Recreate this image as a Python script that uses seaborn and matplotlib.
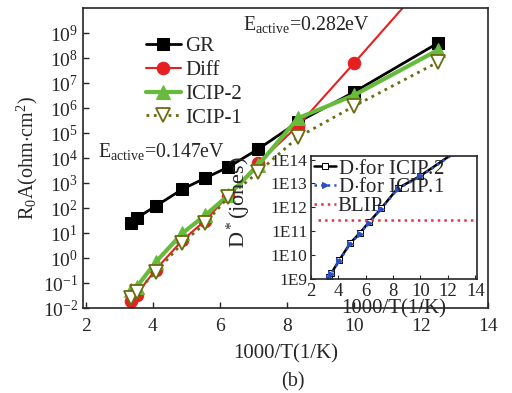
import numpy as np
import pandas as pd
import matplotlib
matplotlib.use("Agg")
import matplotlib.pyplot as plt
import matplotlib.ticker as mticker
import seaborn as sns

# ---------------- data ----------------
inv_T = [3.33, 3.51, 4.08, 4.88, 5.56, 6.25, 7.14, 8.33, 10.0, 12.5]
gr = [25, 40, 120, 575, 1600, 4400, 23000, 2.8e5, 4.4e6, 4.0e8]
diff = [0.019, 0.035, 0.35, 5.2, 32, 320, 6300, 2.0e5, 6.3e7, 4.0e11]
icip2 = [0.052, 0.069, 0.69, 10, 52, 330, 5200, 4.0e5, 3.3e6, 2.1e8]
icip1 = [0.025, 0.044, 0.28, 4.0, 25, 275, 2750, 6.9e4, 1.2e6, 6.9e7]

d_icip2 = [1.2e9, 1.8e9, 6.2e9, 3.2e10, 8.3e10, 2.4e11, 9.1e11, 6.2e12, 2.1e13, 2.0e14]
d_icip1 = [1.1e9, 1.7e9, 5.9e9, 3.0e10, 7.9e10, 2.3e11, 8.7e11, 5.9e12, 2.0e13, 1.9e14]
blip_x = [2.5, 13.8]
blip_val = [2.9e11, 2.9e11]

y_ticks = [1e-2, 1e-1, 1e0, 1e1, 1e2, 1e3, 1e4, 1e5, 1e6, 1e7, 1e8, 1e9]
x_ticks = [2, 4, 6, 8, 10, 12, 14]
inset_y_ticks = [1e9, 1e10, 1e11, 1e12, 1e13, 1e14]
inset_y_labels = ["1E9", "1E10", "1E11", "1E12", "1E13", "1E14"]

# ---------------- style ----------------
sns.set_style("ticks")
plt.rcParams["font.family"] = ["Liberation Serif", "DejaVu Serif"]
plt.rcParams["mathtext.fontset"] = "custom"
plt.rcParams["mathtext.rm"] = "Liberation Serif"
plt.rcParams["mathtext.it"] = "Liberation Serif:italic"
plt.rcParams["mathtext.bf"] = "Liberation Serif:bold"
plt.rcParams["font.size"] = 13

fig = plt.figure(figsize=(5.12, 3.93), dpi=100)
ax = fig.add_axes([0.162, 0.216, 0.791, 0.763])

df = pd.DataFrame({"x": inv_T, "GR": gr, "Diff": diff, "ICIP-2": icip2, "ICIP-1": icip1})

sns.lineplot(data=df, x="x", y="GR", ax=ax, color="black", lw=2, marker="s",
             markersize=9, markeredgecolor="black", label="GR")
sns.lineplot(data=df, x="x", y="Diff", ax=ax, color="#e62020", lw=1.5, marker="o",
             markersize=9, markeredgecolor="#e62020", label="Diff")
sns.lineplot(data=df, x="x", y="ICIP-2", ax=ax, color="#66bb3c", lw=3, marker="^",
             markersize=10, markeredgecolor="#66bb3c", label="ICIP-2")
sns.lineplot(data=df, x="x", y="ICIP-1", ax=ax, color="#6b6b10", lw=2, ls=":",
             marker="v", markersize=10, markerfacecolor="white",
             markeredgecolor="#6b6b10", markeredgewidth=1.3, label="ICIP-1")

ax.set_yscale("log")
ax.set_xlim(1.91, 13.94)
ax.set_ylim(1e-2, 1e10)
ax.set_yticks(y_ticks)
ax.yaxis.set_minor_locator(mticker.NullLocator())
ax.set_xticks(x_ticks)
ax.tick_params(direction="in", length=4, labelsize=14, width=1)
ax.tick_params(axis="x", pad=7)
for s in ax.spines.values():
    s.set_linewidth(1.2)
ax.set_xlabel("1000/T(1/K)", fontsize=15, labelpad=7)
ax.set_ylabel(r"R$_0$A(ohm$\cdot$cm$^2$)", fontsize=14.5, labelpad=2)

leg = ax.legend(loc="upper left", bbox_to_anchor=(0.155, 0.905), frameon=False,
                fontsize=15, handlelength=1.7, labelspacing=0.2, handletextpad=0.2,
                borderaxespad=0, borderpad=0)

ax.text(0.395, 0.927, r"E$_{\mathrm{active}}$=0.282eV", transform=ax.transAxes,
        fontsize=14.3, va="baseline", ha="left")
ax.text(0.037, 0.503, r"E$_{\mathrm{active}}$=0.147eV", transform=ax.transAxes,
        fontsize=14.3, va="baseline", ha="left")

fig.text(0.572, 1 - 382 / 393, "(b)", fontsize=14.5, ha="center", va="center")

# ---------------- inset ----------------
ins = fig.add_axes([0.607, 0.290, 0.324, 0.313])
ins.set_facecolor("white")
dfi = pd.DataFrame({"x": inv_T, "D2": d_icip2, "D1": d_icip1})
sns.lineplot(data=dfi, x="x", y="D2", ax=ins, color="black", lw=1.8, marker="s",
             markersize=4, markerfacecolor="white", markeredgecolor="black",
             label="D$\\cdot$for ICIP.2")
sns.lineplot(data=dfi, x="x", y="D1", ax=ins, color="#2a4fbf", lw=1.8, ls=":",
             marker=">", markersize=4, markeredgecolor="#2a4fbf",
             label="D$\\cdot$for ICIP.1")
dfb = pd.DataFrame({"x": blip_x, "y": blip_val})
sns.lineplot(data=dfb, x="x", y="y", ax=ins, color="#e8304a", lw=1.8, ls=":",
             label="BLIP")
ins.set_yscale("log")
ins.set_xlim(2, 14.1)
ins.set_ylim(1e9, 10 ** 14.15)
ins.set_yticks(inset_y_ticks)
ins.set_yticklabels(inset_y_labels)
ins.yaxis.set_minor_locator(mticker.NullLocator())
ins.set_xticks(x_ticks)
ins.tick_params(direction="in", length=3, labelsize=13.5)
ins.tick_params(axis="y", pad=2.5, labelsize=12.5)
ins.tick_params(axis="x", pad=3)
for s in ins.spines.values():
    s.set_linewidth(1.2)
ins.set_xlabel("1000/T(1/K)", fontsize=15, labelpad=-1)
ins.set_ylabel(r"D$^*$(jones)", fontsize=16)
ins.yaxis.set_label_coords(-0.35, 0.626)
ins.legend(loc="upper left", frameon=False, fontsize=15, handlelength=1.05,
           labelspacing=-0.05, handletextpad=0.1, borderaxespad=0, borderpad=0.15)

fig.savefig("out.png", dpi=100)
